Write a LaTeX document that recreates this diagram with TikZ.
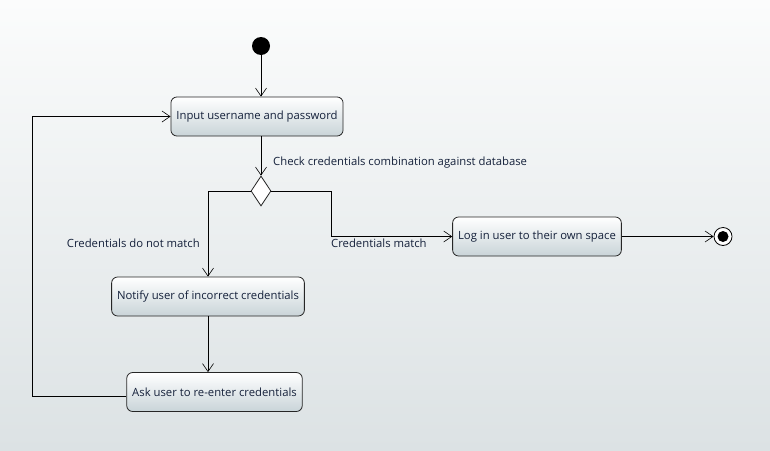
\documentclass[tikz,border=0pt]{standalone}
\usepackage{fontspec}
\setmainfont{Open Sans}
\usetikzlibrary{arrows.meta,shapes.geometric}
\definecolor{bgtop}{HTML}{FBFCFC}
\definecolor{bgbottom}{HTML}{DCE2E4}
\definecolor{boxbottom}{HTML}{C9D4D8}
\definecolor{textcol}{HTML}{14203A}

\begin{document}
\begin{tikzpicture}[x=1pt, y=-1pt, font=\fontsize{11.3}{13}\selectfont,
            action_style/.style={rectangle, rounded corners=6pt, draw=black!85, thick,
                top color=white, bottom color=boxbottom, text=textcol,
                minimum height=39pt, inner xsep=5.5pt},
            edge_style/.style={draw=black, semithick, -{Straight Barb[length=8pt,width=11pt]}},
            label_style/.style={text=textcol, inner sep=0pt}]
            % background
            \shade[top color=bgtop, bottom color=bgbottom] (0,0) rectangle (770,450);
            \node (start) at (261, 46) [circle, fill=black, minimum size=18pt, inner sep=0pt] {};
            \node (input) at (257, 116.5) [action_style] {Input username and password};
            \node (check) at (261, 191) [diamond, draw=black!85, fill=white, thick, inner sep=0pt,
                minimum width=20pt, minimum height=30pt] {};
            \node (login) at (537, 236.5) [action_style] {Log in user to their own space};
            \node (notify) at (208, 296.5) [action_style] {Notify user of incorrect credentials};
            \node (ask) at (214.5, 392) [action_style] {Ask user to re-enter credentials};
            \node (final) at (723, 236.5) [circle, draw=black, fill=white, thick, minimum size=18pt, inner sep=0pt] {};
            \fill (final.center) circle (5.5pt);
            \coordinate (bend) at (331, 191);
            \coordinate (back) at (32, 396);
            \node (checklabel) at (273, 163) [label_style, anchor=west] {Check credentials combination against database};
            \node (matchlabel) at (331, 243) [label_style, anchor=west] {Credentials match};
            \node (nomatchlabel) at (200, 243) [label_style, anchor=east] {Credentials do not match};
            \draw [edge_style] (start) -- (start |- input.north);
            \draw [edge_style] (check |- input.south) -- (check.north);
            \draw [edge_style] (check.west) -| (notify.north);
            \draw [edge_style] (check.east) -- (bend) |- (login.west);
            \draw [edge_style] (notify.south) -- (notify.south |- ask.north);
            \draw [edge_style] (ask.west |- back) -- (back) |- (input.west);
            \draw [edge_style] (login.east) -- (final.west);
        \end{tikzpicture}
\end{document}
